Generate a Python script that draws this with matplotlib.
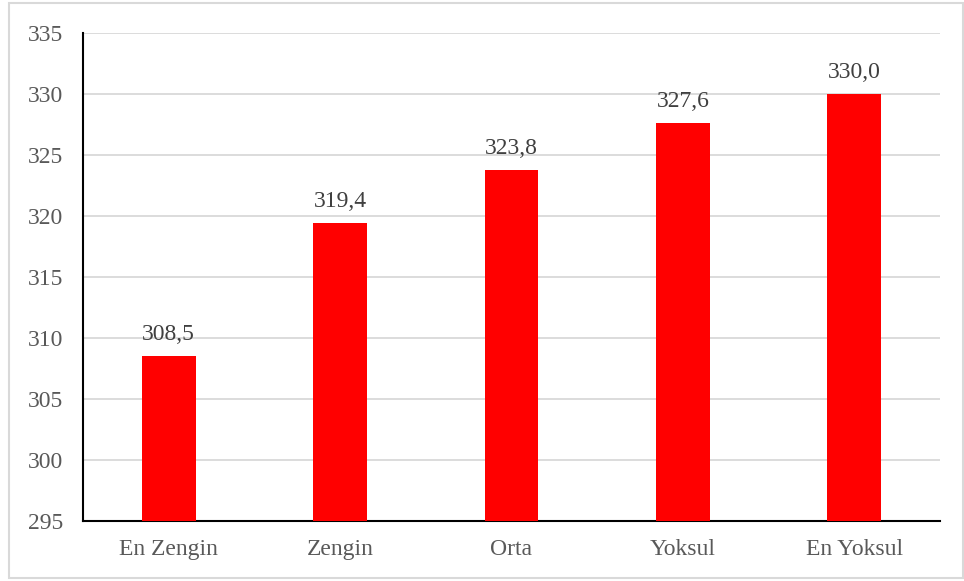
import matplotlib.pyplot as plt
import matplotlib.patches as patches
import numpy as np

categories = ["En Zengin", "Zengin", "Orta", "Yoksul", "En Yoksul"]
values = [308.5, 319.4, 323.8, 327.6, 330.0]
yticks = [295, 300, 305, 310, 315, 320, 325, 330, 335]

plt.rcParams['font.family'] = ['Liberation Serif', 'DejaVu Serif']

fig = plt.figure(figsize=(9.64, 5.81), dpi=100)
ax = fig.add_axes([0.0861, 0.1033, 0.889, 0.8399])

x = np.arange(len(categories))
bars = ax.bar(x, values, width=0.315, color='#ff0000', zorder=3, bottom=0)
for xi, v in zip(x, values):
	ax.text(xi, v + 0.9, "{0:.1f}".format(v).replace(".", ","), ha='center', va='bottom',
		fontsize=17, color='#404040')

ax.set_ylim(295, 335)
ax.set_xlim(-0.5, len(categories) - 0.5)
ax.set_yticks(yticks)
ax.set_xticks(x)
ax.set_xticklabels(categories)
ax.tick_params(axis='both', length=0, labelsize=17, labelcolor='#595959')
ax.tick_params(axis='y', pad=14)
ax.tick_params(axis='x', pad=13)
ax.yaxis.grid(True, color='#d9d9d9', lw=1.3, zorder=0)
ax.set_axisbelow(True)
for s in ['top', 'right']:
	ax.spines[s].set_visible(False)
ax.spines['left'].set_color('black')
ax.spines['left'].set_linewidth(1.5)
ax.spines['bottom'].set_color('black')
ax.spines['bottom'].set_linewidth(1.5)

fig.patches.append(patches.Rectangle((0.009, 0.005), 0.99, 0.99, transform=fig.transFigure,
	fill=False, edgecolor='#d9d9d9', lw=1.5))

fig.savefig("out.png", dpi=100)
